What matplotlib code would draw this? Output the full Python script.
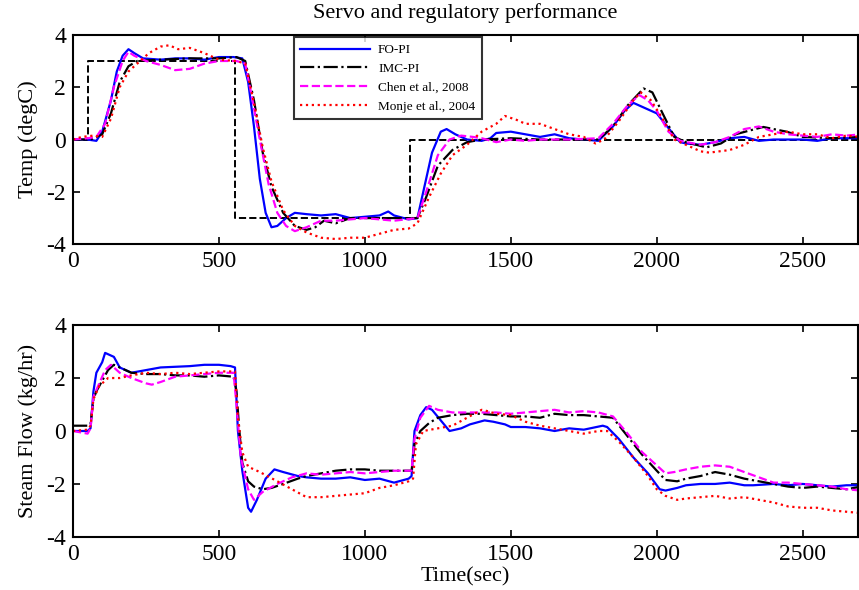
import numpy as np
import matplotlib
matplotlib.use("Agg")
import matplotlib.pyplot as plt

plt.rcParams['font.family'] = ['Liberation Serif', 'DejaVu Serif']
plt.rcParams['axes.unicode_minus'] = False

# ---- top panel: temperature ----
t_sp = [0, 50, 50, 555, 555, 1155, 1155, 2700]
y_sp = [0, 0, 3, 3, -3, -3, 0, 0]

t_fo = [0, 50, 80, 100, 130, 150, 170, 190, 210, 240, 300, 350, 400, 450, 500, 550, 580, 600, 620, 640, 660,
        680, 700, 730, 760, 800, 850, 900, 950, 1000, 1050, 1080, 1100, 1150, 1180, 1200, 1230, 1260, 1280,
        1310, 1350, 1400, 1430, 1450, 1500, 1550, 1600, 1650, 1700, 1750, 1800, 1850, 1890, 1920, 1960, 2000,
        2050, 2080, 2100, 2150, 2200, 2250, 2300, 2350, 2400, 2450, 2500, 2550, 2600, 2700]
y_fo = [0, 0, -0.05, 0.3, 1.5, 2.6, 3.2, 3.45, 3.3, 3.1, 3.05, 3.1, 3.1, 3.05, 3.15, 3.15, 3.1, 2.2, 0.5, -1.5,
        -2.8, -3.35, -3.3, -3.0, -2.8, -2.85, -2.9, -2.85, -3.0, -2.95, -2.9, -2.75, -2.9, -3.05, -3.0, -2.0,
        -0.5, 0.3, 0.4, 0.2, 0.0, -0.05, 0.05, 0.25, 0.3, 0.2, 0.1, 0.2, 0.05, 0.0, -0.05, 0.5, 1.1, 1.4, 1.2,
        1.0, 0.3, -0.1, -0.15, -0.2, -0.1, 0.05, 0.1, -0.05, 0.0, 0.0, 0.0, -0.05, 0.05, 0.05]

t_imc = [0, 60, 100, 130, 160, 190, 220, 300, 400, 500, 560, 590, 620, 650, 680, 720, 760, 800, 830, 860, 900,
         950, 1000, 1100, 1180, 1210, 1250, 1300, 1350, 1400, 1500, 1600, 1700, 1800, 1850, 1900, 1955, 1985,
         2020, 2060, 2100, 2170, 2220, 2270, 2320, 2365, 2400, 2445, 2500, 2600, 2700]
y_imc = [0, 0, 0.2, 1.0, 2.2, 2.8, 3.0, 3.05, 3.1, 3.1, 3.15, 3.0, 1.5, -0.5, -1.8, -2.8, -3.3, -3.45, -3.35,
         -3.1, -3.2, -3.0, -3.0, -3.0, -3.0, -2.2, -1.0, -0.4, -0.1, 0.0, 0.05, 0.0, 0.0, 0.0, 0.5, 1.3, 1.95,
         1.8, 1.0, 0.1, -0.1, -0.3, -0.15, 0.2, 0.35, 0.48, 0.4, 0.3, 0.1, 0.05, 0.1]

t_chen = [0, 50, 80, 110, 140, 170, 190, 210, 250, 300, 350, 400, 450, 500, 560, 590, 610, 640, 670, 700, 730,
          760, 800, 850, 900, 1000, 1100, 1180, 1210, 1250, 1290, 1330, 1370, 1400, 1450, 1500, 1550, 1600,
          1700, 1800, 1850, 1900, 1940, 1970, 2000, 2040, 2080, 2150, 2200, 2250, 2300, 2350, 2400, 2450, 2500,
          2550, 2600, 2650, 2700]
y_chen = [0, 0.05, 0.1, 0.6, 2.0, 3.0, 3.35, 3.2, 3.0, 2.85, 2.65, 2.7, 2.9, 3.0, 3.0, 2.9, 1.8, 0.0, -1.7,
          -2.8, -3.3, -3.5, -3.35, -3.1, -3.1, -3.0, -3.1, -3.0, -2.0, -0.6, 0.0, 0.15, 0.1, 0.05, -0.1, 0.0,
          -0.05, 0.0, 0.0, 0.05, 0.6, 1.3, 1.7, 1.5, 1.1, 0.3, -0.05, -0.2, -0.1, 0.1, 0.4, 0.5, 0.3, 0.2, 0.15,
          0.1, 0.2, 0.15, 0.2]

t_monje = [0, 30, 70, 100, 130, 160, 190, 220, 260, 300, 330, 360, 400, 450, 500, 560, 590, 620, 650, 680, 720,
           760, 800, 850, 900, 950, 1000, 1050, 1100, 1150, 1180, 1220, 1260, 1300, 1350, 1400, 1450, 1480,
           1520, 1550, 1600, 1650, 1700, 1750, 1790, 1820, 1870, 1920, 1945, 1980, 2020, 2060, 2100, 2150, 2180,
           2250, 2300, 2350, 2400, 2450, 2500, 2550, 2600, 2650, 2700]
y_monje = [0, 0.1, 0.15, 0.1, 0.8, 2.0, 2.6, 2.9, 3.3, 3.55, 3.6, 3.45, 3.5, 3.3, 3.05, 3.0, 2.9, 1.4, -0.3,
           -1.6, -2.7, -3.3, -3.55, -3.75, -3.8, -3.75, -3.75, -3.6, -3.45, -3.4, -3.2, -2.2, -1.3, -0.6, -0.2,
           0.3, 0.6, 0.9, 0.75, 0.6, 0.6, 0.4, 0.2, 0.1, -0.15, 0.0, 0.7, 1.5, 1.8, 1.5, 0.8, 0.0, -0.2, -0.45,
           -0.5, -0.4, -0.2, 0.1, 0.2, 0.3, 0.2, 0.2, 0.05, 0.15, 0.1]

# ---- bottom panel: steam flow ----
tb_fo = [0, 50, 60, 70, 80, 100, 110, 140, 160, 200, 250, 300, 400, 450, 500, 540, 555, 565, 580, 600, 610,
         630, 660, 690, 720, 770, 800, 850, 900, 950, 1000, 1050, 1100, 1150, 1160, 1170, 1190, 1210, 1230,
         1260, 1290, 1330, 1360, 1410, 1440, 1480, 1500, 1550, 1600, 1650, 1700, 1750, 1815, 1830, 1870, 1920,
         1970, 2010, 2030, 2070, 2100, 2150, 2200, 2250, 2300, 2330, 2400, 2450, 2500, 2550, 2600, 2650, 2700]
yb_fo = [0.0, 0.0, 0.1, 1.5, 2.2, 2.6, 2.95, 2.8, 2.4, 2.2, 2.3, 2.4, 2.45, 2.5, 2.5, 2.45, 2.4, 0.0, -1.5,
         -2.9, -3.05, -2.6, -1.8, -1.45, -1.55, -1.7, -1.75, -1.8, -1.8, -1.75, -1.85, -1.8, -1.95, -1.8, -1.7,
         0.0, 0.6, 0.9, 0.8, 0.4, 0.0, 0.1, 0.25, 0.4, 0.35, 0.25, 0.15, 0.15, 0.1, 0.0, 0.1, 0.05, 0.2, 0.15,
         -0.3, -1.0, -1.6, -2.2, -2.25, -2.15, -2.05, -2.0, -2.0, -1.95, -2.05, -2.05, -2.0, -2.05, -2.0,
         -2.05, -2.1, -2.05, -2.05]

tb_imc = [0, 50, 60, 70, 80, 100, 120, 140, 160, 200, 250, 300, 350, 400, 450, 500, 550, 560, 570, 580, 600,
          620, 650, 680, 720, 770, 800, 850, 900, 950, 1000, 1050, 1100, 1160, 1170, 1190, 1220, 1250, 1300,
          1350, 1400, 1450, 1500, 1550, 1600, 1650, 1700, 1750, 1800, 1850, 1900, 1950, 2000, 2030, 2070, 2100,
          2150, 2200, 2250, 2300, 2350, 2400, 2450, 2500, 2550, 2600, 2650, 2700]
yb_imc = [0.2, 0.2, 0.25, 1.2, 1.5, 1.9, 2.3, 2.5, 2.4, 2.2, 2.15, 2.15, 2.1, 2.1, 2.05, 2.1, 2.05, 1.5, 0.0,
          -1.2, -1.9, -2.1, -2.2, -2.15, -2.0, -1.8, -1.7, -1.6, -1.5, -1.45, -1.45, -1.5, -1.5, -1.5, -0.5,
          0.0, 0.3, 0.5, 0.6, 0.65, 0.65, 0.6, 0.55, 0.55, 0.5, 0.65, 0.6, 0.6, 0.55, 0.5, -0.2, -0.9, -1.5,
          -1.85, -1.9, -1.8, -1.7, -1.55, -1.65, -1.8, -1.9, -2.0, -2.1, -2.15, -2.1, -2.15, -2.2, -2.1]

tb_chen = [0, 50, 60, 70, 90, 110, 130, 160, 200, 250, 270, 300, 350, 400, 450, 500, 550, 560, 575, 600, 620,
           650, 700, 750, 800, 850, 900, 950, 1000, 1050, 1100, 1160, 1170, 1190, 1220, 1250, 1300, 1350, 1400,
           1450, 1500, 1550, 1600, 1650, 1700, 1750, 1800, 1850, 1900, 1950, 2000, 2030, 2060, 2100, 2150, 2200,
           2250, 2300, 2350, 2400, 2450, 2500, 2550, 2600, 2650, 2700]
yb_chen = [0.0, -0.1, 0.1, 1.3, 1.8, 2.3, 2.5, 2.2, 2.0, 1.8, 1.75, 1.85, 2.05, 2.1, 2.15, 2.2, 2.2, 1.0, -1.0,
           -2.2, -2.6, -2.3, -2.0, -1.75, -1.6, -1.65, -1.6, -1.55, -1.6, -1.55, -1.5, -1.5, -0.3, 0.5, 0.95,
           0.8, 0.7, 0.7, 0.7, 0.7, 0.65, 0.7, 0.75, 0.8, 0.7, 0.75, 0.7, 0.55, -0.1, -0.8, -1.3, -1.6, -1.55,
           -1.45, -1.35, -1.3, -1.35, -1.55, -1.75, -1.95, -1.95, -2.0, -2.05, -2.1, -2.2, -2.25]

tb_monje = [0, 50, 60, 70, 90, 120, 160, 200, 250, 300, 350, 400, 450, 500, 555, 565, 580, 600, 640, 700, 750,
            800, 850, 900, 950, 1000, 1050, 1100, 1150, 1165, 1175, 1200, 1250, 1300, 1350, 1400, 1420, 1450,
            1500, 1550, 1600, 1650, 1700, 1750, 1800, 1830, 1870, 1920, 1970, 2000, 2030, 2070, 2100, 2150, 2200,
            2250, 2300, 2350, 2400, 2450, 2500, 2550, 2600, 2650, 2700]
yb_monje = [0.0, 0.05, 0.2, 1.2, 1.7, 2.0, 2.0, 2.1, 2.2, 2.15, 2.2, 2.15, 2.2, 2.25, 2.25, 0.5, -0.8, -1.35,
            -1.55, -1.9, -2.2, -2.5, -2.5, -2.45, -2.4, -2.35, -2.15, -2.05, -1.9, -1.8, -0.5, 0.0, 0.1, 0.2,
            0.5, 0.8, 0.75, 0.65, 0.6, 0.35, 0.2, 0.1, 0.0, -0.1, 0.0, 0.0, -0.4, -1.0, -1.7, -2.2, -2.45, -2.6,
            -2.55, -2.5, -2.45, -2.55, -2.5, -2.6, -2.7, -2.85, -2.9, -2.9, -3.0, -3.05, -3.1]

labels = ['FO-PI', 'IMC-PI', 'Chen et al., 2008', 'Monje et al., 2004']

fig = plt.figure(figsize=(8.59, 5.90), dpi=100)
ax1 = fig.add_axes([0.085, 0.586, 0.914, 0.355])
ax2 = fig.add_axes([0.085, 0.090, 0.914, 0.359])

lw = 1.6
ax1.plot(t_sp, y_sp, color='black', linestyle='--', lw=1.4)
ax1.plot(t_fo, y_fo, color='blue', linestyle='-', lw=lw, label=labels[0])
ax1.plot(t_imc, y_imc, color='black', linestyle='-.', lw=lw, label=labels[1])
ax1.plot(t_chen, y_chen, color='magenta', linestyle='--', lw=lw, label=labels[2])
ax1.plot(t_monje, y_monje, color='red', linestyle=':', lw=lw, label=labels[3])

ax2.plot(tb_fo, yb_fo, color='blue', linestyle='-', lw=lw)
ax2.plot(tb_imc, yb_imc, color='black', linestyle='-.', lw=lw)
ax2.plot(tb_chen, yb_chen, color='magenta', linestyle='--', lw=lw)
ax2.plot(tb_monje, yb_monje, color='red', linestyle=':', lw=lw)

handles, labs = ax1.get_legend_handles_labels()
leg = ax1.legend(handles, labs, loc='upper left', bbox_to_anchor=(0.281, 0.988), fontsize=9.5,
                 handlelength=5.3, frameon=True, fancybox=False, borderaxespad=0.0, borderpad=0.5,
                 labelspacing=0.5, handletextpad=0.6)
leg.get_frame().set_edgecolor('black')
leg.get_frame().set_linewidth(1.5)

for ax in (ax1, ax2):
    ax.set_xlim(0, 2690)
    ax.set_ylim(-4, 4)
    ax.set_xticks([0, 500, 1000, 1500, 2000, 2500])
    ax.set_yticks([-4, -2, 0, 2, 4])
    ax.tick_params(direction='in', top=True, right=True, labelsize=17, length=5, width=1.2, pad=5)
    for s in ax.spines.values():
        s.set_linewidth(1.5)

ax1.set_title('Servo and regulatory performance', fontsize=16, pad=12)
ax1.set_ylabel('Temp (degC)', fontsize=16, labelpad=6)
ax2.set_ylabel('Steam Flow (kg/hr)', fontsize=16, labelpad=6)
ax2.set_xlabel('Time(sec)', fontsize=16, labelpad=2)

fig.savefig('out.png', dpi=100)
